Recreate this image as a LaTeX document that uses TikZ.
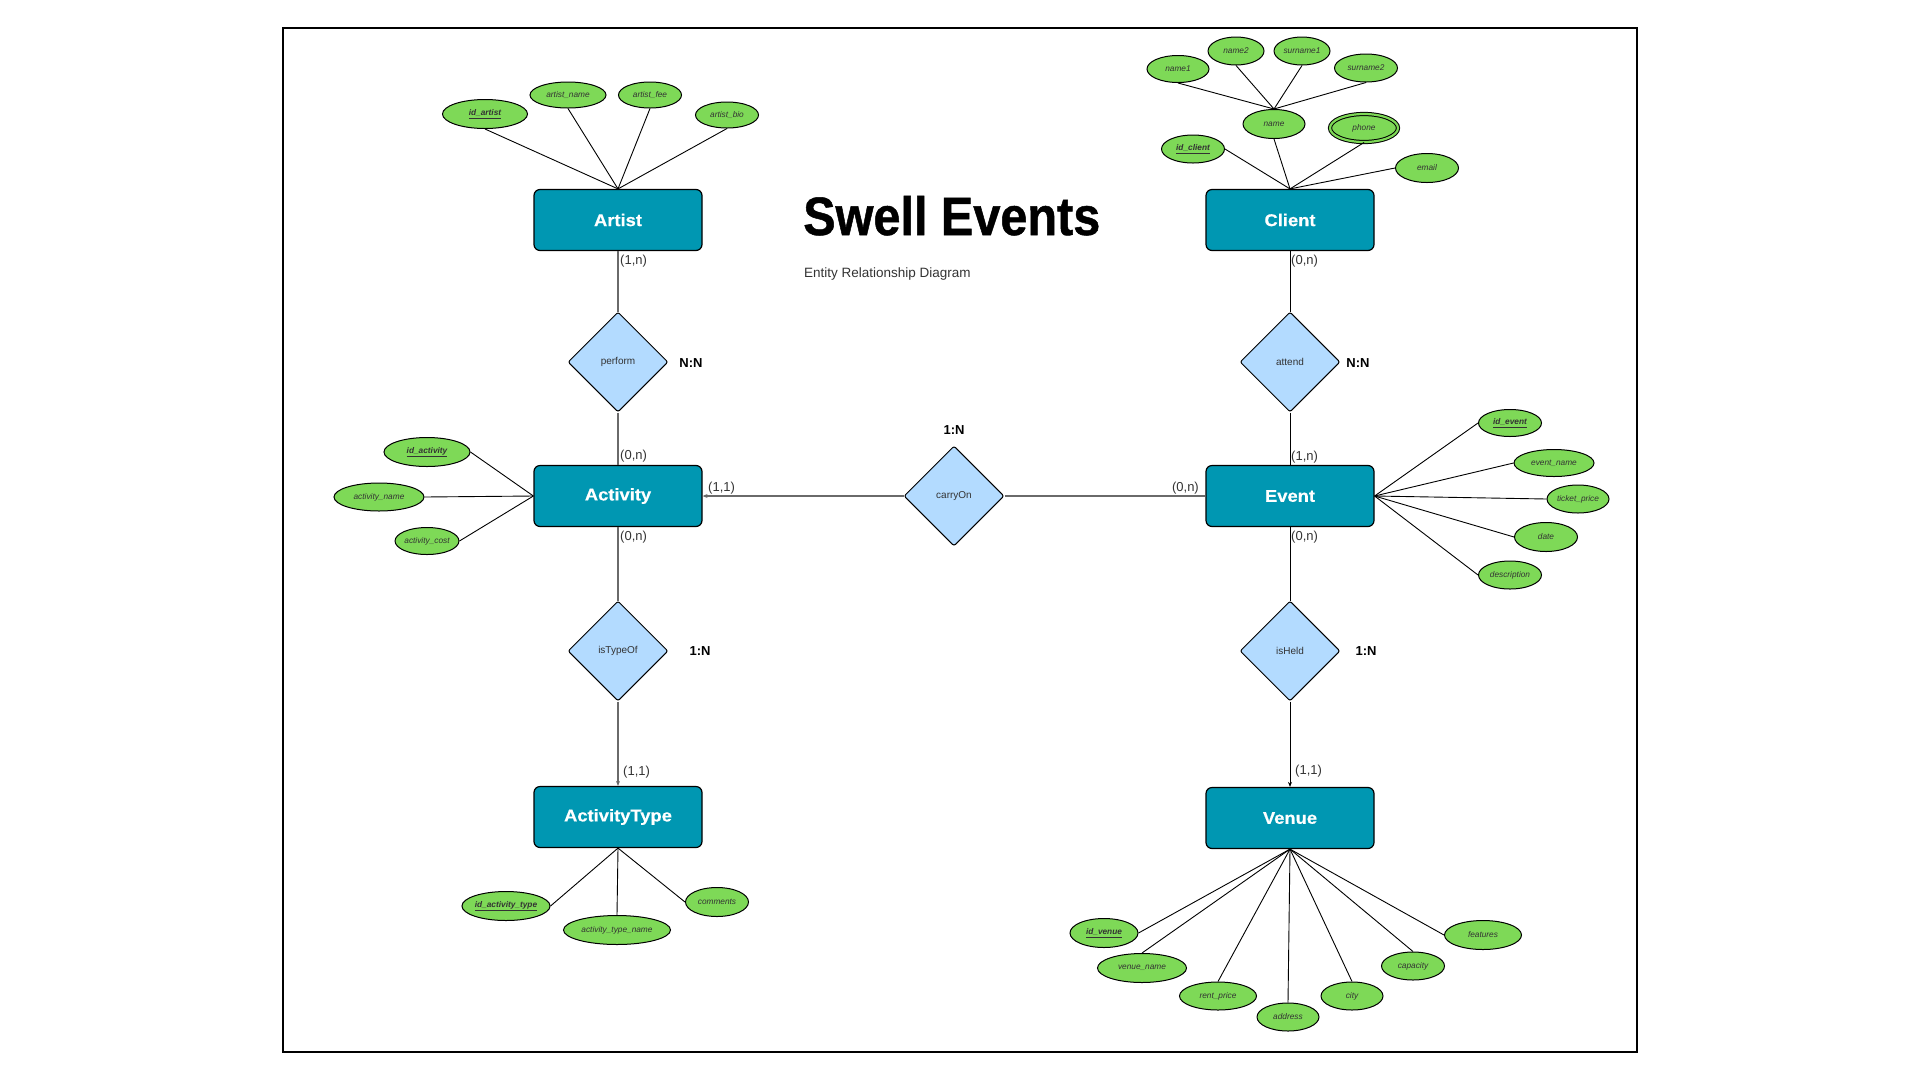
\documentclass[tikz,border=0pt]{standalone}
\usepackage{fontspec}
\setmainfont{Liberation Sans}
\newfontfamily\entfont{Liberation Sans}[FakeStretch=1.08, BoldFeatures={FakeBold=0.5}]
\newfontfamily\titlefont{Liberation Sans}[FakeStretch=0.9, BoldFeatures={FakeBold=0.9}]
\usetikzlibrary{shapes.geometric,arrows.meta}
\definecolor{entc}{HTML}{0097B2}
\definecolor{relc}{HTML}{B3DBFF}
\definecolor{attc}{HTML}{7ED957}
\definecolor{lgray}{HTML}{6A6A6A}
\definecolor{txtgray}{HTML}{333333}
\tikzset{
  entity/.style={draw=black, line width=1.2pt, fill=entc, rounded corners=6pt,
    minimum width=168pt, minimum height=61pt, inner sep=0pt,
    font=\entfont\bfseries\fontsize{17}{20}\selectfont, text=white},
  rel/.style={diamond, draw=black, line width=1pt, fill=relc, rounded corners=2pt,
    minimum width=100pt, minimum height=100pt, inner sep=0pt,
    font=\fontsize{10}{12}\selectfont, text=txtgray},
  attr/.style={ellipse, draw=black, line width=1pt, fill=attc, inner sep=0pt,
    font=\fontsize{8.3}{10}\selectfont\itshape, text=txtgray},
  sz/.style 2 args={minimum width=#1pt, minimum height=#2pt},
  card/.style={font=\fontsize{13}{15}\selectfont, text=txtgray, inner sep=0pt},
  ratio/.style={font=\bfseries\fontsize{13}{15}\selectfont, inner sep=0pt},
  aline/.style={draw=black, line width=0.9pt},
  rlineg/.style={draw=lgray, line width=1.2pt},
  rlineb/.style={draw=black, line width=0.9pt},
  tip/.style={-{Stealth[length=5pt,width=4pt]}},
}
\newcommand{\idkey}[1]{\bfseries\underline{#1}}
\begin{document}
\begin{tikzpicture}[x=1pt,y=-1pt]
\useasboundingbox (0,0) rectangle (1920,1080);
\draw[line width=2pt] (283,28) rectangle (1637,1052);

% title
\node[anchor=base west, inner sep=0pt, font=\titlefont\bfseries\fontsize{54}{60}\selectfont] (title) at (803,235) {Swell Events};
\node[anchor=base west, inner sep=0pt, font=\fontsize{13.5}{16}\selectfont, text=txtgray] (subtitle) at (804,277) {Entity Relationship Diagram};

% entities
\node[entity] (artist) at (618,220) {Artist};
\node[entity] (client) at (1290,220) {Client};
\node[entity] (activity) at (618,496) {Activity};
\node[entity] (event) at (1290,496) {Event};
\node[entity] (atype) at (618,817) {ActivityType};
\node[entity] (venue) at (1290,818) {Venue};

% relationships
\node[rel] (perform) at (618,362) {perform};
\node[rel] (attend) at (1290,362) {attend};
\node[rel] (carryon) at (954,496) {carryOn};
\node[rel] (istypeof) at (618,651) {isTypeOf};
\node[rel] (isheld) at (1290,651) {isHeld};

% ratios
\node[ratio] (r1) at (691,363) {N:N};
\node[ratio] (r2) at (1358,363) {N:N};
\node[ratio] (r3) at (954,430) {1:N};
\node[ratio] (r4) at (700,651) {1:N};
\node[ratio] (r5) at (1366,651) {1:N};

% relationship lines
\draw[rlineg] (artist.south) -- (perform.north);
\draw[rlineg] (perform.south) -- (activity.north);
\draw[rlineg, tip] (carryon.west) -- (activity.east);
\draw[rlineg] (carryon.east) -- (event.west);
\draw[rlineg] (activity.south) -- (istypeof.north);
\draw[rlineg, tip] (istypeof.south) -- (atype.north);
\draw[rlineb] (client.south) -- (attend.north);
\draw[rlineb] (attend.south) -- (event.north);
\draw[rlineb] (event.south) -- (isheld.north);
\draw[rlineb, tip] (isheld.south) -- (venue.north);

% cardinalities
\node[card, anchor=west] (c1) at (620,261) {(1,n)};
\node[card, anchor=west] (c2) at (620,456) {(0,n)};
\node[card, anchor=west] (c3) at (620,537) {(0,n)};
\node[card, anchor=west] (c4) at (708,488) {(1,1)};
\node[card, anchor=east] (c5) at (1199,488) {(0,n)};
\node[card, anchor=west] (c6) at (1291,261) {(0,n)};
\node[card, anchor=west] (c7) at (1291,457) {(1,n)};
\node[card, anchor=west] (c8) at (1291,537) {(0,n)};
\node[card, anchor=west] (c9) at (623,772) {(1,1)};
\node[card, anchor=west] (c10) at (1295,771) {(1,1)};

% Artist attributes
\node[attr, sz={85}{29}] (idartist) at (485,114) {\idkey{id\_artist}};
\node[attr, sz={76}{26}] (artistname) at (568,95) {artist\_name};
\node[attr, sz={63}{26}] (artistfee) at (650,95) {artist\_fee};
\node[attr, sz={63}{26}] (artistbio) at (727,115) {artist\_bio};
\foreach \a in {idartist,artistname,artistfee,artistbio}
  \draw[aline] (\a.south) -- (artist.north);

% Client attributes
\node[attr, sz={62}{27}] (name1) at (1178,69) {name1};
\node[attr, sz={56}{28}] (name2) at (1236,51) {name2};
\node[attr, sz={56}{28}] (surname1) at (1302,51) {surname1};
\node[attr, sz={63}{28}] (surname2) at (1366,68) {surname2};
\node[attr, sz={62}{29}] (cname) at (1274,124) {name};
\node[attr, sz={68}{28}, double=attc, double distance=2.2pt] (phone) at (1364,128) {phone};
\node[attr, sz={63}{28}] (idclient) at (1193,149) {\idkey{id\_client}};
\node[attr, sz={63}{29}] (email) at (1427,168) {email};
\foreach \a in {name1,name2,surname1,surname2}
  \draw[aline] (\a.south) -- (cname.north);
\draw[aline] (idclient.east) -- (client.north);
\draw[aline] (cname.south) -- (client.north);
\draw[aline] (phone.south) -- (client.north);
\draw[aline] (email.west) -- (client.north);

% Activity attributes
\node[attr, sz={86}{29}] (idactivity) at (427,452) {\idkey{id\_activity}};
\node[attr, sz={90}{28}] (activityname) at (379,497) {activity\_name};
\node[attr, sz={63}{27}] (activitycost) at (427,541) {activity\_cost};
\foreach \a in {idactivity,activityname,activitycost}
  \draw[aline] (\a.east) -- (activity.west);

% Event attributes
\node[attr, sz={63}{27}] (idevent) at (1510,423) {\idkey{id\_event}};
\node[attr, sz={80}{27}] (eventname) at (1554,463) {event\_name};
\node[attr, sz={62}{28}] (ticketprice) at (1578,499) {ticket\_price};
\node[attr, sz={63}{29}] (date) at (1546,537) {date};
\node[attr, sz={63}{28}] (description) at (1510,575) {description};
\foreach \a in {idevent,eventname,ticketprice,date,description}
  \draw[aline] (\a.west) -- (event.east);

% ActivityType attributes
\node[attr, sz={86}{29}] (idatype) at (506,906) {\idkey{id\_activity\_type}};
\node[attr, sz={107}{29}] (atypename) at (617,930) {activity\_type\_name};
\node[attr, sz={63}{29}] (comments) at (717,902) {comments};
\draw[aline] (idatype.east) -- (atype.south);
\draw[aline] (atypename.north) -- (atype.south);
\draw[aline] (comments.west) -- (atype.south);

% Venue attributes
\node[attr, sz={68}{29}] (idvenue) at (1104,933) {\idkey{id\_venue}};
\node[attr, sz={89}{29}] (venuename) at (1142,968) {venue\_name};
\node[attr, sz={77}{28}] (rentprice) at (1218,996) {rent\_price};
\node[attr, sz={62}{28}] (address) at (1288,1017) {address};
\node[attr, sz={62}{28}] (city) at (1352,996) {city};
\node[attr, sz={63}{28}] (capacity) at (1413,966) {capacity};
\node[attr, sz={77}{29}] (features) at (1483,935) {features};
\draw[aline] (idvenue.east) -- (venue.south);
\foreach \a in {venuename,rentprice,address,city,capacity}
  \draw[aline] (\a.north) -- (venue.south);
\draw[aline] (features.west) -- (venue.south);
\end{tikzpicture}
\end{document}
